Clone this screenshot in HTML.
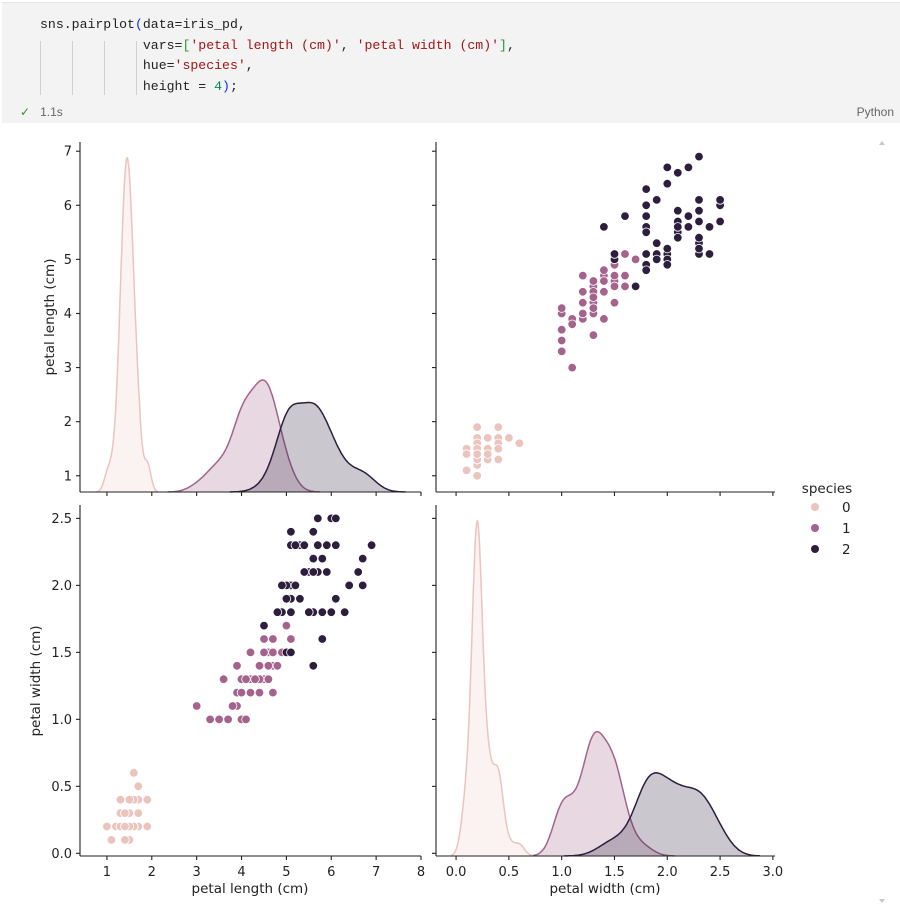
<!DOCTYPE html>
<html><head><meta charset="utf-8">
<style>
body{margin:0;width:900px;height:905px;background:#fff;overflow:hidden;font-family:"DejaVu Sans","Liberation Sans",sans-serif;}
#cell{position:absolute;left:2px;top:2px;width:898px;height:120px;background:#f3f3f3;border-top:1px solid #e5e5e5;}
#code{position:absolute;left:38px;top:12px;font-family:"Liberation Mono",monospace;font-size:13.2px;line-height:20.5px;color:#1f1f1f;white-space:pre;letter-spacing:0px}
.s{color:#a31515}.n{color:#098658}.b{color:#0431fa}.g{color:#319331}
.guide{position:absolute;top:38px;width:1px;height:54px;background:#d0d0d0}
#status{position:absolute;left:18px;top:102px;font-size:12px;color:#666;font-family:"Liberation Sans",sans-serif}
#lang{position:absolute;right:6px;top:102px;font-size:12px;color:#666;font-family:"Liberation Sans",sans-serif}
svg{position:absolute;left:0;top:0}
svg text{font-family:"DejaVu Sans",sans-serif;fill:#222}
</style></head><body>
<div id="cell">
<div class="guide" style="left:38px"></div>
<div class="guide" style="left:70px"></div>
<div class="guide" style="left:102px"></div>
<div class="guide" style="left:134px"></div>
<div id="code">sns.pairplot<span class="b">(</span>data=iris_pd,
             vars=<span class="g">[</span><span class="s">'petal length (cm)'</span>, <span class="s">'petal width (cm)'</span><span class="g">]</span>,
             hue=<span class="s">'species'</span>,
             height = <span class="n">4</span><span class="b">)</span>;</div>
<div id="status"><span style="color:#388a34">✓</span>&nbsp;&nbsp; 1.1s</div>
<div id="lang">Python</div>
</div>
<svg id="chart" width="900" height="905"></svg>
<script>
const PL0=[1.4,1.4,1.3,1.5,1.4,1.7,1.4,1.5,1.4,1.5,1.5,1.6,1.4,1.1,1.2,1.5,1.3,1.4,1.7,1.5,1.7,1.5,1.0,1.7,1.9,1.6,1.6,1.5,1.4,1.6,1.6,1.5,1.5,1.4,1.5,1.2,1.3,1.4,1.3,1.5,1.3,1.3,1.3,1.6,1.9,1.4,1.6,1.4,1.5,1.4];
const PW0=[.2,.2,.2,.2,.2,.4,.3,.2,.2,.1,.2,.2,.1,.1,.2,.4,.4,.3,.3,.3,.2,.4,.2,.5,.2,.2,.4,.2,.2,.2,.2,.4,.1,.2,.2,.2,.2,.1,.2,.2,.3,.3,.2,.6,.4,.3,.2,.2,.2,.2];
const PL1=[4.7,4.5,4.9,4.0,4.6,4.5,4.7,3.3,4.6,3.9,3.5,4.2,4.0,4.7,3.6,4.4,4.5,4.1,4.5,3.9,4.8,4.0,4.9,4.7,4.3,4.4,4.8,5.0,4.5,3.5,3.8,3.7,3.9,5.1,4.5,4.5,4.7,4.4,4.1,4.0,4.4,4.6,4.0,3.3,4.2,4.2,4.2,4.3,3.0,4.1];
const PW1=[1.4,1.5,1.5,1.3,1.5,1.3,1.6,1.0,1.3,1.4,1.0,1.5,1.0,1.4,1.3,1.4,1.5,1.0,1.5,1.1,1.8,1.3,1.5,1.2,1.3,1.4,1.4,1.7,1.5,1.0,1.1,1.0,1.2,1.6,1.5,1.6,1.5,1.3,1.3,1.3,1.2,1.4,1.2,1.0,1.3,1.2,1.3,1.3,1.1,1.3];
const PL2=[6.0,5.1,5.9,5.6,5.8,6.6,4.5,6.3,5.8,6.1,5.1,5.3,5.5,5.0,5.1,5.3,5.5,6.7,6.9,5.0,5.7,4.9,6.7,4.9,5.7,6.0,4.8,4.9,5.6,5.8,6.1,6.4,5.6,5.1,5.6,6.1,5.6,5.5,4.8,5.4,5.6,5.1,5.1,5.9,5.7,5.2,5.0,5.2,5.4,5.1];
const PW2=[2.5,1.9,2.1,1.8,2.2,2.1,1.7,1.8,1.8,2.5,2.0,1.9,2.1,2.0,2.4,2.3,1.8,2.2,2.3,1.5,2.3,2.0,2.0,1.8,2.1,1.8,1.8,1.8,2.1,1.6,1.9,2.0,2.2,1.5,1.4,2.3,2.4,1.8,1.8,2.1,2.4,2.3,1.9,2.3,2.5,2.3,1.9,2.0,2.3,1.8];
const speciesLabels=["0","1","2"];
const lenTicks=[1,2,3,4,5,6,7,8];
const lenYTicks=[1,2,3,4,5,6,7];
const widTicks=[0.0,0.5,1.0,1.5,2.0,2.5,3.0];
const widYTicks=[0.0,0.5,1.0,1.5,2.0,2.5];

const COLORS=["#ebc4bd","#a4638c","#2d1e3e"];
const FILLA=[0.2,0.25,0.25];
const svg=document.getElementById('chart');
const NS="http://www.w3.org/2000/svg";
function mk(tag,attrs,parent){const e=document.createElementNS(NS,tag);for(const k in attrs)e.setAttribute(k,attrs[k]);(parent||svg).appendChild(e);return e;}

const colX=[{x0:80,x1:421,v0:0.4,v1:8.0},{x0:436,x1:775,v0:-0.19,v1:3.02}];
const rowY=[{y0:142,y1:492,v0:7.17,v1:0.70},{y0:505,y1:856,v0:2.60,v1:-0.02}];
function sx(c,v){const a=colX[c];return a.x0+(v-a.v0)/(a.v1-a.v0)*(a.x1-a.x0);}
function sy(r,v){const a=rowY[r];return a.y0+(v-a.v0)/(a.v1-a.v0)*(a.y1-a.y0);}

const LEN=[PL0,PL1,PL2], WID=[PW0,PW1,PW2];
const VARS=[LEN,WID];

function std(a){const m=a.reduce((s,v)=>s+v,0)/a.length;return Math.sqrt(a.reduce((s,v)=>s+(v-m)*(v-m),0)/(a.length-1));}
function kde(data,total){const bw=std(data)*Math.pow(data.length,-0.2);const lo=Math.min(...data)-3*bw,hi=Math.max(...data)+3*bw;const pts=[];
 for(let i=0;i<=200;i++){const x=lo+(hi-lo)*i/200;let s=0;for(const d of data){const z=(x-d)/bw;s+=Math.exp(-0.5*z*z);}pts.push([x,s/(total*bw*Math.sqrt(2*Math.PI))]);}return pts;}

function drawDiag(k){
  const g=mk('g',{});
  
  
  const total=150;const curves=VARS[k].map(d=>kde(d,total));
  let mx=0;curves.forEach(c=>c.forEach(p=>{if(p[1]>mx)mx=p[1];}));
  const a=rowY[k];const base=a.y1, top=a.y0+(a.y1-a.y0)*0.045;
  const ys=v=>base-(v/mx)*(base-top);
  curves.forEach((c,i)=>{
    let d='M'+sx(k,c[0][0]).toFixed(1)+','+base;
    c.forEach(p=>d+=' L'+sx(k,p[0]).toFixed(1)+','+ys(p[1]).toFixed(1));
    d+=' L'+sx(k,c[c.length-1][0]).toFixed(1)+','+base+' Z';
    const f=mk('path',{d:d,fill:COLORS[i],'fill-opacity':FILLA[i],stroke:'none'},g);
    
    
    let l='';c.forEach((p,j)=>l+=(j?' L':'M')+sx(k,p[0]).toFixed(1)+','+ys(p[1]).toFixed(1));
    const ln=mk('path',{d:l,fill:'none',stroke:COLORS[i],'stroke-width':1.5},g);
    
    
  });
}
function drawScatter(r,c){
  const g=mk('g',{});
  
  
  for(let s=0;s<3;s++){const xs=VARS[c][s],ys=VARS[r][s];
    for(let i=0;i<xs.length;i++){const p=mk('circle',{cx:sx(c,xs[i]).toFixed(1),cy:sy(r,ys[i]).toFixed(1),r:4.3,fill:COLORS[s],stroke:'#fff','stroke-width':0.8},g);
      
      }}
}
drawDiag(0);drawScatter(0,1);drawScatter(1,0);drawDiag(1);

function axes(r,c){
  const X=colX[c],Y=rowY[r];
  const g=mk('g',{stroke:'#222','stroke-width':1.1});
  
  
  mk('line',{x1:X.x0,y1:Y.y0,x2:X.x0,y2:Y.y1},g);
  mk('line',{x1:X.x0,y1:Y.y1,x2:X.x1,y2:Y.y1},g);
  const yt=r===0?lenYTicks:widYTicks;
  yt.forEach(v=>{const y=sy(r,v);mk('line',{x1:X.x0-4,y1:y,x2:X.x0,y2:y},g);
    if(c===0){const t=mk('text',{x:X.x0-8,y:y+4.5,'text-anchor':'end','font-size':13,stroke:'none'});t.textContent=r===0?v:v.toFixed(1);
      
      }});
  const xt=c===0?lenTicks:widTicks;
  xt.forEach(v=>{const x=sx(c,v);mk('line',{x1:x,y1:Y.y1,x2:x,y2:Y.y1+4},g);
    if(r===1){const t=mk('text',{x:x,y:Y.y1+20,'text-anchor':'middle','font-size':13,stroke:'none'});t.textContent=c===0?v:v.toFixed(1);
      
      }});
}
axes(0,0);axes(0,1);axes(1,0);axes(1,1);

function label(txt,x,y,rot,name){const t=mk('text',{x:x,y:y,'text-anchor':'middle','font-size':13.5});if(rot)t.setAttribute('transform','rotate(-90 '+x+' '+y+')');t.textContent=txt;
  
  }
label('petal length (cm)',250,893,false,'x-axis-title-length');
label('petal width (cm)',605,893,false,'x-axis-title-width');
label('petal length (cm)',54,317,true,'y-axis-title-length');
label('petal width (cm)',40,681,true,'y-axis-title-width');

const lg=mk('g',{});


const lt=mk('text',{x:827,y:493,'text-anchor':'middle','font-size':13.5},lg);lt.textContent='species';
speciesLabels.forEach((s,i)=>{const y=507+i*21;
  const m=mk('circle',{cx:815,cy:y,r:4,fill:COLORS[i]},lg);
  
  
  const t=mk('text',{x:842,y:y+5,'font-size':13.5},lg);t.textContent=s;
  
  });
const up=mk('path',{d:'M879,145 l3,-4 l3,4 Z',fill:'#c8c8c8'});


const dn=mk('path',{d:'M879,899 l3,4 l3,-4 Z',fill:'#c8c8c8'});


</script>
</body></html>
